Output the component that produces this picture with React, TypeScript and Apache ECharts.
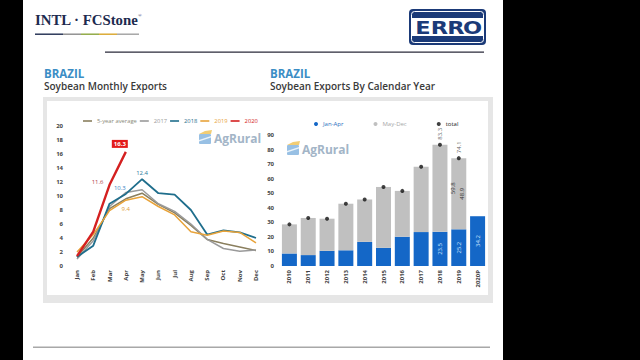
import React, { useEffect, useRef } from "react";
import * as echarts from "echarts";

const months = ["Jan", "Feb", "Mar", "Apr", "May", "Jun", "Jul", "Aug", "Sep", "Oct", "Nov", "Dec"];
const avg5 = [1.3, 4.0, 8.2, 9.6, 10.4, 8.8, 7.6, 5.8, 3.8, 3.2, 2.7, 2.2];
const y2017 = [1.0, 3.6, 8.5, 10.5, 10.9, 8.9, 7.8, 6.0, 3.8, 2.5, 2.1, 2.3];
const y2018 = [1.3, 2.9, 8.9, 10.3, 12.4, 10.4, 10.2, 8.0, 4.5, 5.1, 4.8, 4.0];
const y2019 = [2.0, 4.5, 7.9, 9.4, 9.9, 8.5, 7.3, 4.9, 4.4, 5.0, 4.8, 3.3];
const y2020 = [1.4, 4.9, 11.6, 16.3];

const years = ["2010", "2011", "2012", "2013", "2014", "2015", "2016", "2017", "2018", "2019", "2020P"];
const janApr = [8.6, 7.5, 10.4, 10.8, 16.6, 12.5, 20.1, 23.3, 23.5, 25.2, 34.2];
const mayDec = [20.0, 25.5, 22.1, 32.0, 29.1, 41.8, 31.5, 44.9, 59.8, 48.9, null];
const totals = [28.6, 33.0, 32.5, 42.8, 45.7, 54.3, 51.6, 68.2, 83.3, 74.1, null];

const lineNames = ["5-year average", "2017", "2018", "2019", "2020"];
const lineColors = ["#8a7f5e", "#9a9a9a", "#1f6e8c", "#e8a33a", "#d42020"];

const FONT = "Open Sans";

function agRural(x: number, y: number) {
  return {
    type: "group",
    x,
    y,
    children: [
      { type: "rect", shape: { x: 0, y: 4, width: 12, height: 10, r: 1 }, style: { fill: "#86b5df", opacity: 0.85 } },
      { type: "polygon", shape: { points: [[0, 4], [6, 1], [13, 0], [12, 4]] }, style: { fill: "#f0c45c", opacity: 0.85 } },
      { type: "polygon", shape: { points: [[0, 10], [12, 6], [12, 7.5], [0, 11.5]] }, style: { fill: "#ffffff", opacity: 0.8 } },
      {
        type: "text",
        x: 15,
        y: 8,
        style: { text: "AgRural", fill: "#a3b5c7", font: `bold 12px '${FONT}'`, textVerticalAlign: "middle" },
      },
    ],
  };
}

export default function App() {
  const ref = useRef<HTMLDivElement>(null);
  useEffect(() => {
    if (!ref.current) return;
    const chart = echarts.init(ref.current, null, { renderer: "svg" });
    const axisLab = { fontSize: 6, color: "#444", fontWeight: "bold", fontFamily: FONT };

    const lineData = [avg5, y2017, y2018, y2019, y2020];
    const lineLabels: Record<string, Record<number, any>> = {
      "2020": {
        2: { show: true, position: "left", distance: 6, offset: [0, -3], color: "#b03a48", fontSize: 6, fontFamily: FONT },
        3: {
          show: true,
          position: "top",
          distance: 4,
          offset: [-6, 0],
          color: "#fff",
          backgroundColor: "#e31b1b",
          padding: [1, 2],
          fontSize: 6,
          fontWeight: "bold",
          fontFamily: FONT,
        },
      },
      "2018": {
        4: { show: true, position: "top", distance: 3, color: "#2b7a9b", fontSize: 6, fontFamily: FONT },
        3: { show: true, position: "top", distance: 3, offset: [-6, 0], color: "#3a7fbf", fontSize: 6, fontFamily: FONT },
      },
      "2019": {
        3: { show: true, position: "bottom", distance: 6, color: "#e0a040", fontSize: 6, fontFamily: FONT },
      },
    };

    const lineSeries = lineNames.map((name, k) => ({
      name,
      type: "line",
      xAxisIndex: 0,
      yAxisIndex: 0,
      symbol: "circle",
      symbolSize: 0.01,
      z: 2 + k,
      lineStyle: { color: lineColors[k], width: k === 4 ? 2.4 : k === 2 ? 1.8 : 1.5 },
      itemStyle: { color: lineColors[k] },
      data: lineData[k].map((v, i) => {
        const lab = lineLabels[name] && lineLabels[name][i];
        return lab ? { value: v, label: lab } : v;
      }),
    }));

    const janAprLabelIdx = [8, 9, 10];
    const mayDecOffsets: Record<number, number[]> = { 8: [0, 13], 9: [0, 3] };
    const totalLabelIdx = [8, 9];

    const option: any = {
      animation: false,
      backgroundColor: "#000",
      textStyle: { fontFamily: FONT },
      legend: [
        {
          left: 78,
          top: 113,
          icon: "rect",
          itemWidth: 9,
          itemHeight: 1.6,
          itemGap: 3,
          data: lineNames.map((n, k) => ({ name: n, textStyle: { color: k === 0 ? "#8a8a7a" : lineColors[k] } })),
          textStyle: { fontSize: 5.8, fontFamily: FONT },
        },
        {
          left: 309,
          top: 116,
          icon: "circle",
          itemWidth: 4,
          itemHeight: 4,
          itemGap: 30,
          data: [
            { name: "Jan-Apr", textStyle: { color: "#2c6fc0" } },
            { name: "May-Dec", textStyle: { color: "#a8a8a8" } },
            { name: "total", textStyle: { color: "#222" } },
          ],
          textStyle: { fontSize: 6, fontFamily: FONT },
        },
      ],
      grid: [
        { left: 77, top: 126, width: 179, height: 140 },
        { left: 280, top: 135, width: 207, height: 131 },
      ],
      xAxis: [
        {
          type: "category",
          gridIndex: 0,
          data: months,
          boundaryGap: false,
          axisLine: { show: false },
          axisTick: { show: false },
          axisLabel: { ...axisLab, rotate: 90, margin: 4 },
        },
        {
          type: "category",
          gridIndex: 1,
          data: years,
          axisLine: { show: false },
          axisTick: { show: false },
          axisLabel: { ...axisLab, rotate: 90, margin: 4 },
        },
      ],
      yAxis: [
        {
          type: "value",
          gridIndex: 0,
          min: 0,
          max: 20,
          interval: 2,
          axisLine: { show: false },
          axisTick: { show: false },
          splitLine: { show: false },
          axisLabel: { ...axisLab, margin: 14 },
        },
        {
          type: "value",
          gridIndex: 1,
          min: 0,
          max: 90,
          interval: 10,
          axisLine: { show: false },
          axisTick: { show: false },
          splitLine: { show: false },
          axisLabel: { ...axisLab, margin: 6 },
        },
      ],
      series: [
        ...lineSeries,
        {
          name: "Jan-Apr",
          type: "bar",
          xAxisIndex: 1,
          yAxisIndex: 1,
          stack: "tot",
          barWidth: 15,
          itemStyle: { color: "#1467c7" },
          data: janApr.map((v, i) =>
            janAprLabelIdx.includes(i)
              ? {
                  value: v,
                  label: { show: true, position: "inside", rotate: 90, color: "#cfe6ff", fontSize: 6, fontFamily: FONT },
                }
              : v
          ),
        },
        {
          name: "May-Dec",
          type: "bar",
          xAxisIndex: 1,
          yAxisIndex: 1,
          stack: "tot",
          barWidth: 15,
          itemStyle: { color: "#c0c0c0" },
          data: mayDec.map((v, i) =>
            mayDecOffsets[i]
              ? {
                  value: v,
                  label: {
                    show: true,
                    position: "inside",
                    rotate: 90,
                    offset: mayDecOffsets[i],
                    color: "#333",
                    fontSize: 6,
                    fontFamily: FONT,
                  },
                }
              : v
          ),
        },
        {
          name: "total",
          type: "scatter",
          xAxisIndex: 1,
          yAxisIndex: 1,
          symbol: "circle",
          symbolSize: 4,
          z: 5,
          itemStyle: { color: "#111" },
          data: totals.map((v, i) =>
            totalLabelIdx.includes(i)
              ? {
                  value: v,
                  label: {
                    show: true,
                    position: "top",
                    distance: 3,
                    rotate: 90,
                    align: "left",
                    verticalAlign: "middle",
                    color: "#333",
                    fontSize: 6,
                    fontFamily: FONT,
                  },
                }
              : v
          ),
        },
      ],
      graphic: [
        { type: "rect", z: -5, shape: { x: 23, y: 0, width: 480, height: 360 }, style: { fill: "#fff" } },
        {
          type: "text",
          z: -4,
          x: 35,
          y: 20,
          style: {
            text: "INTL · FCStone",
            fill: "#1d2b4f",
            font: "bold 14.8px 'Liberation Serif'",
            textVerticalAlign: "middle",
          },
        },
        { type: "text", z: -4, x: 138, y: 13, style: { text: "®", fill: "#1d2b4f", font: "5px 'Liberation Serif'" } },
        { type: "rect", z: -4, shape: { x: 35, y: 33.5, width: 28, height: 1.4 }, style: { fill: "#1d2b4f" } },
        { type: "rect", z: -4, shape: { x: 63, y: 33.5, width: 18, height: 1.4 }, style: { fill: "#8a8a8a" } },
        { type: "rect", z: -4, shape: { x: 81, y: 33.5, width: 18, height: 1.4 }, style: { fill: "#8aa43a" } },
        { type: "rect", z: -4, shape: { x: 99, y: 33.5, width: 18, height: 1.4 }, style: { fill: "#d9a428" } },
        { type: "rect", z: -4, shape: { x: 117, y: 33.5, width: 22, height: 1.4 }, style: { fill: "#a0a0a0" } },
        // ERRO logo
        { type: "rect", z: -4, shape: { x: 409, y: 9, width: 77, height: 36, r: 4 }, style: { fill: "#1b3a78" } },
        { type: "rect", z: -4, shape: { x: 411.5, y: 11.5, width: 72, height: 31, r: 3 }, style: { fill: "none", stroke: "#fff", lineWidth: 1 } },
        { type: "rect", z: -4, shape: { x: 412, y: 18, width: 71, height: 18 }, style: { fill: "#fff" } },
        ...["E", "R", "R", "O"].map((ch, i) => ({
          type: "text",
          z: -3,
          x: 423 + i * 16.5,
          y: 27.5,
          scaleX: 1.25,
          style: {
            text: ch,
            fill: "#1b3a78",
            font: "bold 18px 'DejaVu Sans'",
            textAlign: "center",
            textVerticalAlign: "middle",
          },
        })),
        { type: "rect", z: -4, shape: { x: 105, y: 51.5, width: 379, height: 1.3 }, style: { fill: "#2a2a3a" } },
        // titles
        {
          type: "text",
          z: -4,
          x: 44,
          y: 73,
          style: { text: "BRAZIL", fill: "#3b8dc5", font: `bold 11.5px '${FONT}'`, textVerticalAlign: "middle" },
        },
        {
          type: "text",
          z: -4,
          x: 44,
          y: 86,
          style: {
            text: "Soybean Monthly Exports",
            fill: "#3a3a3a",
            font: `600 10px '${FONT}'`,
            textVerticalAlign: "middle",
          },
        },
        {
          type: "text",
          z: -4,
          x: 270,
          y: 73,
          style: { text: "BRAZIL", fill: "#3b8dc5", font: `bold 11.5px '${FONT}'`, textVerticalAlign: "middle" },
        },
        {
          type: "text",
          z: -4,
          x: 270,
          y: 86,
          style: {
            text: "Soybean Exports By Calendar Year",
            fill: "#3a3a3a",
            font: `600 10px '${FONT}'`,
            textVerticalAlign: "middle",
          },
        },
        // panel
        { type: "rect", z: -4, shape: { x: 43, y: 97, width: 450, height: 206 }, style: { fill: "#e6e6e6" } },
        { type: "rect", z: -3, shape: { x: 47, y: 101, width: 441, height: 194 }, style: { fill: "#fff" } },
        { ...agRural(199, 130), z: -2 },
        { ...agRural(287, 141), z: -2 },
        { type: "rect", z: -4, shape: { x: 33, y: 346.5, width: 457, height: 1.5 }, style: { fill: "#a8a8a8" } },
      ],
    };
    chart.setOption(option);
    return () => chart.dispose();
  }, []);
  return <div ref={ref} style={{ position: "absolute", left: 0, top: 0, width: 640, height: 360 }} />;
}
